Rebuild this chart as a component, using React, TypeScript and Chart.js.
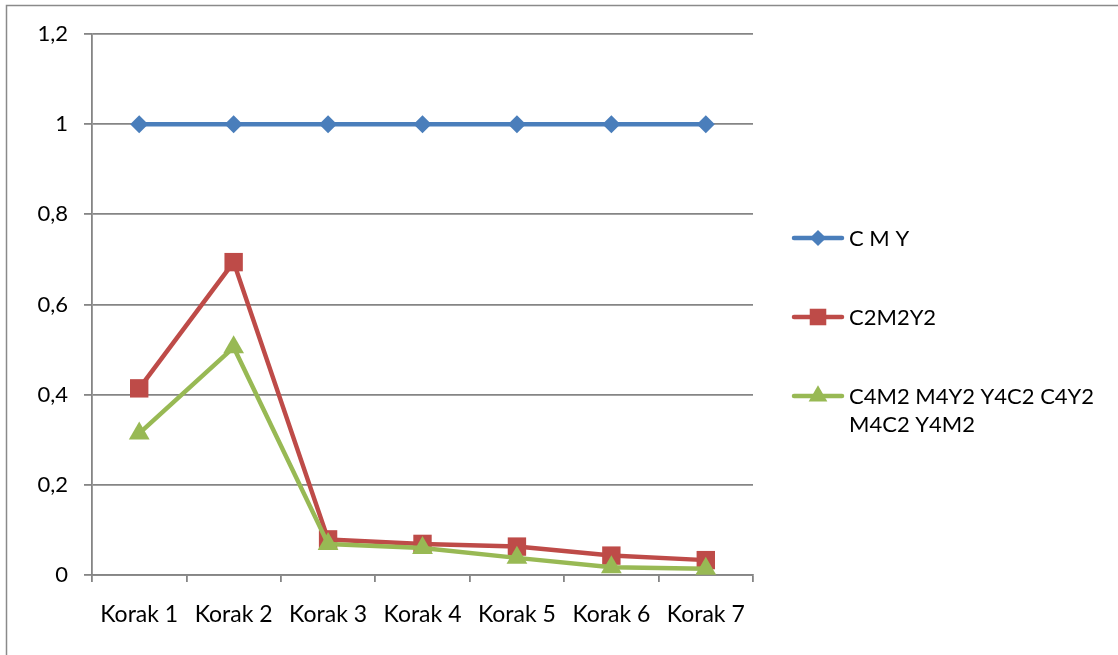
import React, { useEffect, useRef } from "react";
import { Chart, registerables } from "chart.js";

Chart.register(...registerables);

const categories = ["Korak 1", "Korak 2", "Korak 3", "Korak 4", "Korak 5", "Korak 6", "Korak 7"];
const seriesNames = ["C M Y", "C2M2Y2", "C4M2 M4Y2 Y4C2 C4Y2 M4C2 Y4M2"];
const cmyValues = [1, 1, 1, 1, 1, 1, 1];
const c2m2y2Values = [0.414, 0.694, 0.079, 0.069, 0.063, 0.043, 0.033];
const c4m2Values = [0.314, 0.505, 0.069, 0.060, 0.038, 0.017, 0.014];
const yTicks = [0, 0.2, 0.4, 0.6, 0.8, 1, 1.2];

const FONT = "Lato";
const FONT_SIZE = 22;
const GRID = "#858585";

function drawMarker(ctx: CanvasRenderingContext2D, style: string, x: number, y: number, r: number) {
  ctx.beginPath();
  if (style === "rectRot") {
    ctx.moveTo(x, y - r);
    ctx.lineTo(x + r, y);
    ctx.lineTo(x, y + r);
    ctx.lineTo(x - r, y);
  } else if (style === "rect") {
    const s = r * Math.SQRT1_2;
    ctx.rect(x - s, y - s, 2 * s, 2 * s);
  } else {
    ctx.moveTo(x, y - r);
    ctx.lineTo(x + r * Math.sin(Math.PI / 3), y + r / 2);
    ctx.lineTo(x - r * Math.sin(Math.PI / 3), y + r / 2);
  }
  ctx.closePath();
  ctx.fill();
}

const framePlugin = {
  id: "frame",
  beforeDraw(chart: any) {
    const ctx = chart.ctx;
    ctx.save();
    ctx.fillStyle = "#ffffff";
    ctx.fillRect(0, 0, chart.width, chart.height);
    ctx.strokeStyle = "#8a8a8a";
    ctx.lineWidth = 1.5;
    ctx.strokeRect(6.5, 5.5, chart.width + 20, chart.height + 20);
    ctx.restore();
  },
};

const sideLegendPlugin = {
  id: "sideLegend",
  afterDraw(chart: any) {
    const ctx: CanvasRenderingContext2D = chart.ctx;
    ctx.save();
    ctx.font = `${FONT_SIZE}px ${FONT}`;
    ctx.textBaseline = "middle";
    ctx.fillStyle = "#000000";
    const x0 = 794;
    const x1 = 842;
    const textX = 849;
    const maxW = 262;
    const lineH = 28;
    let y = 238;
    chart.data.datasets.forEach((ds: any) => {
      ctx.strokeStyle = ds.borderColor;
      ctx.lineWidth = 4.5;
      ctx.lineCap = "round";
      ctx.beginPath();
      ctx.moveTo(x0, y);
      ctx.lineTo(x1, y);
      ctx.stroke();
      ctx.fillStyle = ds.pointBackgroundColor;
      drawMarker(ctx, ds.pointStyle, (x0 + x1) / 2, y, ds.pointRadius * 0.9);
      const words = String(ds.label).split(" ");
      const lines: string[] = [];
      let cur = "";
      words.forEach((w) => {
        const t = cur ? cur + " " + w : w;
        if (ctx.measureText(t).width > maxW && cur) {
          lines.push(cur);
          cur = w;
        } else cur = t;
      });
      if (cur) lines.push(cur);
      ctx.fillStyle = "#000000";
      lines.forEach((l, i) => ctx.fillText(l, textX, y + 1 + i * lineH));
      y += 79;
    });
    ctx.restore();
  },
};

export default function App() {
  const ref = useRef<HTMLCanvasElement>(null);
  useEffect(() => {
    if (!ref.current) return;
    const mk = (label: string, data: number[], color: string, style: string, r: number, order: number) => ({
      label,
      data,
      order,
      borderColor: color,
      backgroundColor: color,
      pointBackgroundColor: color,
      pointBorderColor: color,
      pointBorderWidth: 0,
      pointStyle: style,
      pointRadius: r,
      pointHoverRadius: r,
      borderWidth: 4.5,
      borderJoinStyle: "round",
      borderCapStyle: "round",
      tension: 0,
      fill: false,
    });
    const chart = new Chart(ref.current, {
      type: "line",
      data: {
        labels: categories,
        datasets: [
          mk(seriesNames[0], cmyValues, "#4A7EBB", "rectRot", 9, 2),
          mk(seriesNames[1], c2m2y2Values, "#BE4B48", "rect", 13, 1),
          mk(seriesNames[2], c4m2Values, "#98B954", "triangle", 12, 0),
        ] as any,
      },
      options: {
        responsive: false,
        animation: false,
        layout: { padding: { left: 0, top: 34, right: 365, bottom: 0 } },
        plugins: { legend: { display: false }, tooltip: { enabled: false } },
        scales: {
          x: {
            offset: true,
            grid: { offset: true, drawOnChartArea: false, drawTicks: true, tickLength: 7, color: GRID, lineWidth: 1.8 },
            border: { display: true, color: GRID, width: 1.8 },
            ticks: { color: "#000", font: { family: FONT, size: 23 }, padding: 19, maxRotation: 0, autoSkip: false },
            afterFit: (s: any) => { s.height = 80; },
          },
          y: {
            min: 0,
            max: 1.2,
            afterBuildTicks: (s: any) => { s.ticks = yTicks.map((v) => ({ value: v })); },
            grid: { color: GRID, lineWidth: 1.8, tickLength: 8 },
            border: { display: true, color: GRID, width: 1.8 },
            ticks: {
              color: "#000",
              font: { family: FONT, size: FONT_SIZE },
              padding: 16,
              callback: (v: any) => String(Math.round(Number(v) * 10) / 10).replace(".", ","),
            },
            afterFit: (s: any) => { s.width = 92; },
          },
        },
      },
      plugins: [framePlugin, sideLegendPlugin],
    } as any);
    return () => chart.destroy();
  }, []);
  return (
    <div style={{ position: "absolute", left: 0, top: 0, width: 1118, height: 655 }}>
      <canvas ref={ref} width={1118} height={655} style={{ width: 1118, height: 655, display: "block" }} />
    </div>
  );
}
